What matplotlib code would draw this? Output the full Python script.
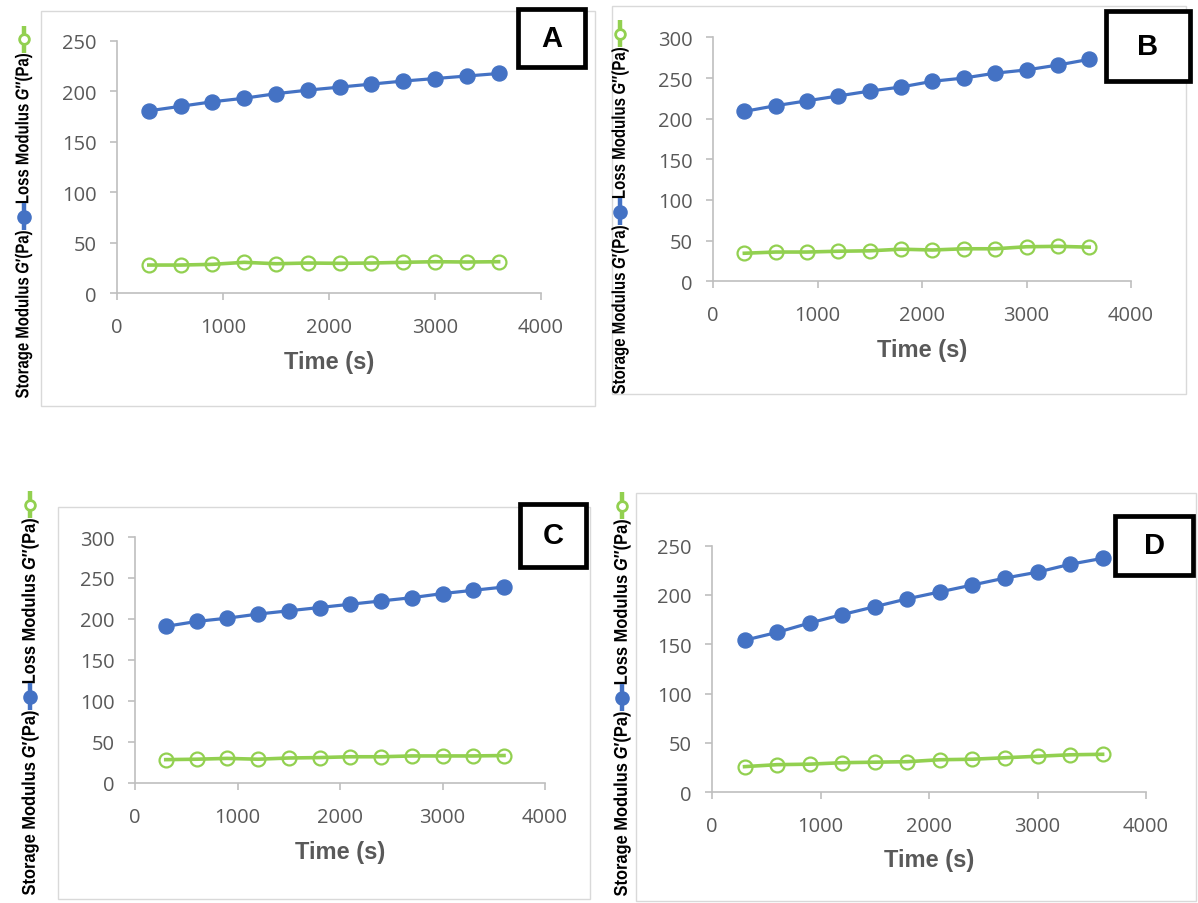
import matplotlib
matplotlib.use("Agg")
import matplotlib.pyplot as plt
from matplotlib.font_manager import FontProperties
from matplotlib.lines import Line2D
from matplotlib.patches import Rectangle, PathPatch
from matplotlib.textpath import TextPath
from matplotlib.transforms import IdentityTransform, Affine2D

# ---------------------------------------------------------------- data
time_s = [300, 600, 900, 1200, 1500, 1800, 2100, 2400, 2700, 3000, 3300, 3600]

storage_a = [180.5, 185, 189.5, 193, 197.5, 201, 204, 207, 210, 212.5, 215, 217.5]
loss_a = [27.7, 27.7, 28.4, 30.4, 29.0, 29.7, 29.4, 29.7, 30.4, 31.0, 30.7, 31.0]

storage_b = [209, 216, 222, 228, 234, 239, 246, 250, 256, 260, 266, 273]
loss_b = [34.5, 36, 36, 37, 37.5, 39.5, 38.5, 40, 40, 42.5, 43, 42]

storage_c = [191, 197, 201, 206, 210, 214, 218, 222, 226, 231, 235, 239]
loss_c = [28.5, 29, 30, 29, 30.5, 31, 32, 32, 33, 33, 33, 33.5]

storage_d = [154, 162, 171.5, 180, 188, 196, 203, 210, 217, 223, 231, 237]
loss_d = [26, 28, 28.5, 30, 30.5, 31, 33, 33.5, 35, 36.5, 38, 38.5]

panel_names = ["A", "B", "C", "D"]
storage_series = [storage_a, storage_b, storage_c, storage_d]
loss_series = [loss_a, loss_b, loss_c, loss_d]
y_max = [250, 300, 300, 250]
x_ticks = [0, 1000, 2000, 3000, 4000]
x_label = "Time (s)"

# ---------------------------------------------------------------- style
W, H = 1198, 904
BLUE = "#4472C4"
GREEN = "#92D050"
AXIS_GREY = "#BFBFBF"
TEXT_GREY = "#595959"
FRAME_GREY = "#D9D9D9"

plt.rcParams["font.family"] = ["Open Sans", "DejaVu Sans"]

# layout, in pixels from the top-left corner
plot_box = {  # left, right, top, bottom of the plotting area
    "A": (117, 541, 41.7, 294),
    "B": (713, 1131, 38.4, 282.3),
    "C": (135, 545, 538, 784),
    "D": (712, 1146, 546.5, 793.3),
}
chart_frame = {  # left, right, top, bottom of each chart border
    "A": (41, 595, 12, 407),
    "B": (612, 1186, 7, 395),
    "C": (58, 590, 508, 900),
    "D": (636, 1196, 494, 902),
}
tag_box = {  # left, right, top, bottom of the letter boxes
    "A": (518, 585, 10, 68),
    "B": (1106, 1190, 12, 82),
    "C": (520, 586, 505, 568),
    "D": (1115, 1193, 517, 576),
}
ylabel_col = {  # x centre, bottom, top of the vertical label
    "A": (23.5, 399, 27),
    "B": (620, 395, 21),
    "C": (30, 896, 492),
    "D": (622, 897, 493),
}
xlabel_drop = {"A": 68, "B": 68, "C": 69, "D": 67}

fig = plt.figure(figsize=(W / 100, H / 100), dpi=100)
fig.patch.set_facecolor("white")
PIX = IdentityTransform()

LABEL_EM = 18.5          # glyph size of the vertical label, px
KEY_LEN = 27             # length of the series keys inside the label, px
PIECE_GAP = 0.07         # gap between label pieces, in em


def fig_rect(l, r, t, b):
    return [l / W, 1 - b / H, (r - l) / W, (b - t) / H]


def label_path(s, style):
    fp = FontProperties(family=["Liberation Sans", "DejaVu Sans"],
                        weight="bold", style=style)
    return TextPath((0, 0), s, size=LABEL_EM, prop=fp)


def draw_key(x, y0, color, filled):
    fig.add_artist(Line2D([x, x], [y0, y0 + KEY_LEN], transform=PIX,
                          color=color, lw=3.2, solid_capstyle="butt"))
    fig.add_artist(Line2D([x], [y0 + KEY_LEN / 2], transform=PIX, marker="o",
                          ms=8.5 if filled else 7, mfc=color if filled else "white",
                          mec=color, mew=2.0, lw=0))


def draw_ylabel(x, y_bottom, y_top):
    pieces = [("Storage Modulus", "normal"), ("SPACE", None), ("G", "italic"),
              ("\u2032(Pa)", "normal"), ("KEY", BLUE),
              ("Loss Modulus", "normal"), ("SPACE", None), ("G", "italic"),
              ("\u2033(Pa)", "normal"), ("KEY", GREEN)]
    paths = {}
    natural = 0.0
    for i, (s, st) in enumerate(pieces):
        if s == "SPACE":
            natural += 0.25 * LABEL_EM
        elif s != "KEY":
            p = label_path(s, st)
            paths[i] = p
            natural += p.get_extents().width + PIECE_GAP * LABEL_EM
    want = (y_bottom - y_top) - 2 * KEY_LEN
    squeeze = want / natural

    # centre of the glyph band (descender to cap height) sits on x
    tx = x + 0.26 * LABEL_EM
    y = H - y_bottom
    for i, (s, st) in enumerate(pieces):
        if s == "SPACE":
            y += 0.25 * LABEL_EM * squeeze
        elif s == "KEY":
            draw_key(x, y, st, st == BLUE)
            y += KEY_LEN
        else:
            p = paths[i]
            ext = p.get_extents()
            tr = (Affine2D().translate(-ext.x0, 0).scale(squeeze, 1)
                  .rotate_deg(90).translate(tx, y))
            fig.add_artist(PathPatch(tr.transform_path(p), transform=PIX,
                                     facecolor="black", edgecolor="none"))
            y += (ext.width + PIECE_GAP * LABEL_EM) * squeeze


for name, storage, loss, ymax in zip(panel_names, storage_series, loss_series, y_max):
    # chart border
    fl, fr, ft, fb = chart_frame[name]
    fig.add_artist(Rectangle((fl, H - fb), fr - fl, fb - ft, transform=PIX,
                             fill=False, edgecolor=FRAME_GREY, lw=1.0))

    l, r, t, b = plot_box[name]
    ax = fig.add_axes(fig_rect(l, r, t, b))
    ax.set_facecolor("none")
    ax.plot(time_s, storage, color=BLUE, lw=2.3, marker="o", ms=10.8,
            mfc=BLUE, mec=BLUE, zorder=3, clip_on=False)
    ax.plot(time_s, loss, color=GREEN, lw=2.6, marker="o", ms=10,
            mfc="none", mec=GREEN, mew=1.6, zorder=3, clip_on=False)
    ax.set_xlim(0, 4000)
    ax.set_ylim(0, ymax)
    ax.set_xticks(x_ticks)
    ax.set_yticks(list(range(0, ymax + 1, 50)))
    for side in ("top", "right"):
        ax.spines[side].set_visible(False)
    for side in ("left", "bottom"):
        ax.spines[side].set_color(AXIS_GREY)
        ax.spines[side].set_linewidth(1.2)
    ax.tick_params(axis="both", direction="out", length=5, width=1.2,
                   color=AXIS_GREY, labelcolor=TEXT_GREY, labelsize=14.5)
    ax.tick_params(axis="x", pad=12)
    ax.tick_params(axis="y", pad=9.5)
    ax.set_xlabel(x_label, fontsize=17, fontweight="bold", color=TEXT_GREY,
                  family="Liberation Sans", va="center")
    ax.xaxis.set_label_coords(0.5, -xlabel_drop[name] / (b - t))

    # letter box
    bl, br, bt, bb = tag_box[name]
    fig.add_artist(Rectangle((bl, H - bb), br - bl, bb - bt, transform=PIX,
                             facecolor="white", edgecolor="black", lw=3.4, zorder=5))
    fig.text((bl + br) / 2, H - (bt + bb) / 2, name, transform=PIX,
             ha="center", va="center", fontsize=21, fontweight="bold",
             family="Liberation Sans", color="black", zorder=6)

    xc, yb, yt = ylabel_col[name]
    draw_ylabel(xc, yb, yt)

fig.savefig("out.png", dpi=100, facecolor="white")
